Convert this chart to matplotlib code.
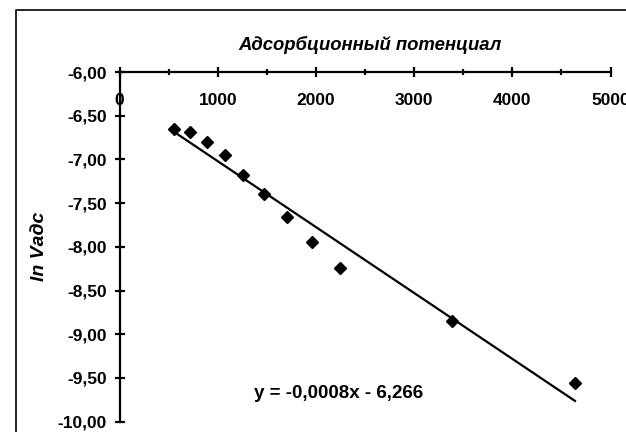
import numpy as np
import matplotlib
matplotlib.use("Agg")
import matplotlib.pyplot as plt
from matplotlib.lines import Line2D
from matplotlib.ticker import FixedLocator, MultipleLocator

plt.rcParams['font.family'] = ['Liberation Sans', 'DejaVu Sans']

# data
potential = [555, 718, 888, 1074, 1261, 1471, 1703, 1957, 2245, 3389, 4638]
ln_v = [-6.652, -6.683, -6.805, -6.953, -7.182, -7.396, -7.663, -7.941, -8.246, -8.849, -9.555]
x_ticks = [0, 1000, 2000, 3000, 4000, 5000]
x_tick_labels = ["0", "1000", "2000", "3000", "4000", "5000"]
y_ticks = [-10.0, -9.5, -9.0, -8.5, -8.0, -7.5, -7.0, -6.5, -6.0]
y_tick_labels = ["-10,00", "-9,50", "-9,00", "-8,50", "-8,00", "-7,50", "-7,00", "-6,50", "-6,00"]
title_text = "Адсорбционный потенциал"
ylabel_text = "ln Vадс"
equation_text = "y = -0,0008x - 6,266"

W, H = 626, 432
fig = plt.figure(figsize=(W / 100, H / 100), dpi=100)
ax = fig.add_axes([119.5 / W, 1 - 421.7 / H, 491 / W, (421.7 - 72) / H])
ax.set_xlim(0, 5000)
ax.set_ylim(-10, -6)

ax.plot(potential, ln_v, linestyle='none', marker='D', markersize=6.3,
        color='black', zorder=3, clip_on=False)

coef = np.polyfit(potential, ln_v, 1)
xs = np.array([min(potential), max(potential)])
ax.plot(xs, np.polyval(coef, xs), color='black', linewidth=1.6, zorder=2)

for s in ['top', 'right']:
    ax.spines[s].set_visible(False)
ax.spines['bottom'].set_position(('data', -6))
ax.spines['bottom'].set_linewidth(1.6)
ax.spines['left'].set_linewidth(1.6)
ax.spines['bottom'].set_zorder(1)

ax.xaxis.set_major_locator(FixedLocator(x_ticks))
ax.set_xticklabels(x_tick_labels)
ax.xaxis.set_minor_locator(MultipleLocator(500))
ax.yaxis.set_major_locator(FixedLocator(y_ticks))
ax.set_yticklabels(y_tick_labels)

ax.tick_params(axis='x', which='major', direction='inout', length=7.2, width=1.6,
               pad=11.5, labelsize=12.5)
ax.tick_params(axis='x', which='minor', direction='inout', length=4.3, width=1.6)
ax.tick_params(axis='y', which='major', direction='inout', length=6.5, width=1.6,
               pad=5.8, labelsize=12.5)
for lab in ax.get_xticklabels() + ax.get_yticklabels():
    lab.set_fontweight('bold')

ax.text(2235, -9.673, equation_text, ha='center', va='center',
        fontsize=13.5, fontweight='bold')

fig.text(370 / W, 1 - 45 / H, title_text, ha='center', va='center',
         fontsize=13.3, fontweight='bold', style='italic')
fig.text(40 / W, 1 - 246.7 / H, ylabel_text, ha='center', va='center',
         rotation=90, fontsize=14, fontweight='bold', style='italic')

fig.add_artist(Line2D([16 / W, 16 / W, 1.0], [0.0, 1 - 10 / H, 1 - 10 / H],
                      transform=fig.transFigure, color='black', linewidth=1.2))

fig.savefig("out.png", dpi=100)
